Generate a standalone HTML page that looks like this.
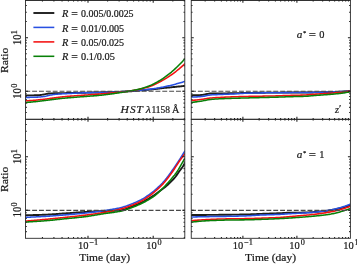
<!DOCTYPE html>
<html><head><meta charset="utf-8"><title>chart</title>
<style>html,body{margin:0;padding:0;background:#fff;overflow:hidden}svg{display:block;filter:blur(0.3px)}</style></head>
<body>
<svg width="357" height="265" viewBox="0 0 357 265">
<rect width="357" height="265" fill="#fff"/>
<defs>
<clipPath id="cTL"><rect x="25.5" y="0.3" width="159.3" height="119"/></clipPath>
<clipPath id="cTR"><rect x="191.25" y="0.3" width="159.15" height="119"/></clipPath>
<clipPath id="cBL"><rect x="25.5" y="119.3" width="159.3" height="119"/></clipPath>
<clipPath id="cBR"><rect x="191.25" y="119.3" width="159.15" height="119"/></clipPath>
</defs>
<g clip-path="url(#cTL)" fill="none" stroke-width="2.0" stroke-linejoin="round">
<path d="M25.5 95.4 L26.5 95.4 L27.5 95.4 L28.5 95.39 L29.5 95.38 L30.5 95.38 L31.5 95.37 L32.5 95.36 L33.5 95.34 L34.5 95.32 L35.5 95.3 L36.5 95.26 L37.5 95.22 L38.5 95.17 L39.5 95.08 L40.5 94.96 L41.5 94.83 L42.5 94.68 L43.5 94.52 L44.5 94.31 L45.5 94.09 L46.5 93.89 L47.5 93.72 L48.5 93.55 L49.5 93.43 L50.5 93.38 L51.5 93.36 L52.5 93.34 L53.5 93.32 L54.5 93.31 L55.5 93.29 L56.5 93.27 L57.5 93.25 L58.5 93.23 L59.5 93.21 L60.5 93.19 L61.5 93.17 L62.5 93.15 L63.5 93.13 L64.5 93.11 L65.5 93.09 L66.5 93.07 L67.5 93.05 L68.5 93.03 L69.5 93.01 L70.5 92.99 L71.5 92.97 L72.5 92.95 L73.5 92.93 L74.5 92.91 L75.5 92.89 L76.5 92.87 L77.5 92.85 L78.5 92.83 L79.5 92.81 L80.5 92.79 L81.5 92.77 L82.5 92.75 L83.5 92.73 L84.5 92.71 L85.5 92.69 L86.5 92.67 L87.5 92.65 L88.5 92.63 L89.5 92.61 L90.5 92.59 L91.5 92.57 L92.5 92.56 L93.5 92.54 L94.5 92.52 L95.5 92.5 L96.5 92.48 L97.5 92.45 L98.5 92.43 L99.5 92.41 L100.5 92.39 L101.5 92.37 L102.5 92.34 L103.5 92.32 L104.5 92.29 L105.5 92.27 L106.5 92.25 L107.5 92.22 L108.5 92.19 L109.5 92.17 L110.5 92.14 L111.5 92.11 L112.5 92.08 L113.5 92.05 L114.5 92.02 L115.5 91.98 L116.5 91.95 L117.5 91.91 L118.5 91.88 L119.5 91.84 L120.5 91.8 L121.5 91.75 L122.5 91.71 L123.5 91.66 L124.5 91.62 L125.5 91.57 L126.5 91.51 L127.5 91.46 L128.5 91.4 L129.5 91.34 L130.5 91.26 L131.5 91.18 L132.5 91.1 L133.5 91 L134.5 90.91 L135.5 90.81 L136.5 90.72 L137.5 90.62 L138.5 90.53 L139.5 90.44 L140.5 90.36 L141.5 90.28 L142.5 90.2 L143.5 90.13 L144.5 90.05 L145.5 89.98 L146.5 89.9 L147.5 89.82 L148.5 89.73 L149.5 89.65 L150.5 89.55 L151.5 89.45 L152.5 89.34 L153.5 89.22 L154.5 89.1 L155.5 88.98 L156.5 88.86 L157.5 88.73 L158.5 88.6 L159.5 88.48 L160.5 88.36 L161.5 88.24 L162.5 88.13 L163.5 88.03 L164.5 87.92 L165.5 87.82 L166.5 87.73 L167.5 87.63 L168.5 87.54 L169.5 87.44 L170.5 87.35 L171.5 87.25 L172.5 87.16 L173.5 87.06 L174.5 86.96 L175.5 86.86 L176.5 86.76 L177.5 86.66 L178.5 86.56 L179.5 86.46 L180.5 86.36 L181.5 86.26 L182.5 86.16 L183.5 86.05 L184.5 85.95 L185 85.9" stroke="#1c1c1c" stroke-width="1.9"/>
<path d="M25.5 97.4 L26.5 97.4 L27.5 97.39 L28.5 97.38 L29.5 97.37 L30.5 97.35 L31.5 97.33 L32.5 97.31 L33.5 97.29 L34.5 97.26 L35.5 97.22 L36.5 97.18 L37.5 97.13 L38.5 97.07 L39.5 97 L40.5 96.91 L41.5 96.81 L42.5 96.69 L43.5 96.57 L44.5 96.42 L45.5 96.23 L46.5 96.01 L47.5 95.76 L48.5 95.52 L49.5 95.3 L50.5 95.11 L51.5 94.92 L52.5 94.75 L53.5 94.59 L54.5 94.46 L55.5 94.35 L56.5 94.26 L57.5 94.17 L58.5 94.1 L59.5 94.03 L60.5 93.96 L61.5 93.9 L62.5 93.84 L63.5 93.78 L64.5 93.73 L65.5 93.67 L66.5 93.62 L67.5 93.56 L68.5 93.51 L69.5 93.46 L70.5 93.41 L71.5 93.36 L72.5 93.31 L73.5 93.26 L74.5 93.22 L75.5 93.17 L76.5 93.13 L77.5 93.08 L78.5 93.04 L79.5 93 L80.5 92.96 L81.5 92.92 L82.5 92.89 L83.5 92.85 L84.5 92.82 L85.5 92.78 L86.5 92.75 L87.5 92.72 L88.5 92.69 L89.5 92.67 L90.5 92.64 L91.5 92.61 L92.5 92.59 L93.5 92.56 L94.5 92.54 L95.5 92.51 L96.5 92.49 L97.5 92.46 L98.5 92.44 L99.5 92.41 L100.5 92.39 L101.5 92.36 L102.5 92.34 L103.5 92.31 L104.5 92.29 L105.5 92.27 L106.5 92.24 L107.5 92.22 L108.5 92.19 L109.5 92.17 L110.5 92.14 L111.5 92.11 L112.5 92.08 L113.5 92.05 L114.5 92.02 L115.5 91.98 L116.5 91.94 L117.5 91.89 L118.5 91.84 L119.5 91.79 L120.5 91.73 L121.5 91.67 L122.5 91.6 L123.5 91.54 L124.5 91.47 L125.5 91.4 L126.5 91.34 L127.5 91.27 L128.5 91.2 L129.5 91.13 L130.5 91.06 L131.5 90.99 L132.5 90.92 L133.5 90.84 L134.5 90.77 L135.5 90.69 L136.5 90.6 L137.5 90.52 L138.5 90.43 L139.5 90.35 L140.5 90.25 L141.5 90.16 L142.5 90.06 L143.5 89.96 L144.5 89.85 L145.5 89.74 L146.5 89.63 L147.5 89.51 L148.5 89.39 L149.5 89.26 L150.5 89.13 L151.5 89 L152.5 88.86 L153.5 88.71 L154.5 88.55 L155.5 88.4 L156.5 88.23 L157.5 88.06 L158.5 87.89 L159.5 87.71 L160.5 87.53 L161.5 87.35 L162.5 87.16 L163.5 86.96 L164.5 86.76 L165.5 86.55 L166.5 86.33 L167.5 86.11 L168.5 85.88 L169.5 85.64 L170.5 85.4 L171.5 85.15 L172.5 84.9 L173.5 84.65 L174.5 84.4 L175.5 84.14 L176.5 83.87 L177.5 83.6 L178.5 83.32 L179.5 83.04 L180.5 82.75 L181.5 82.46 L182.5 82.16 L183.5 81.86 L184.5 81.55 L185 81.4" stroke="#2850e2" stroke-width="1.55"/>
<path d="M25.5 100.9 L26.5 100.84 L27.5 100.78 L28.5 100.71 L29.5 100.64 L30.5 100.57 L31.5 100.49 L32.5 100.41 L33.5 100.33 L34.5 100.24 L35.5 100.16 L36.5 100.06 L37.5 99.96 L38.5 99.85 L39.5 99.75 L40.5 99.63 L41.5 99.52 L42.5 99.4 L43.5 99.28 L44.5 99.16 L45.5 99.04 L46.5 98.92 L47.5 98.79 L48.5 98.66 L49.5 98.52 L50.5 98.39 L51.5 98.26 L52.5 98.12 L53.5 97.99 L54.5 97.86 L55.5 97.74 L56.5 97.61 L57.5 97.48 L58.5 97.35 L59.5 97.23 L60.5 97.1 L61.5 96.98 L62.5 96.86 L63.5 96.75 L64.5 96.65 L65.5 96.55 L66.5 96.46 L67.5 96.37 L68.5 96.29 L69.5 96.21 L70.5 96.13 L71.5 96.05 L72.5 95.98 L73.5 95.91 L74.5 95.83 L75.5 95.76 L76.5 95.69 L77.5 95.63 L78.5 95.56 L79.5 95.49 L80.5 95.42 L81.5 95.35 L82.5 95.28 L83.5 95.21 L84.5 95.14 L85.5 95.06 L86.5 94.99 L87.5 94.92 L88.5 94.85 L89.5 94.78 L90.5 94.71 L91.5 94.64 L92.5 94.57 L93.5 94.49 L94.5 94.42 L95.5 94.35 L96.5 94.27 L97.5 94.2 L98.5 94.12 L99.5 94.04 L100.5 93.96 L101.5 93.87 L102.5 93.79 L103.5 93.7 L104.5 93.61 L105.5 93.52 L106.5 93.42 L107.5 93.33 L108.5 93.23 L109.5 93.14 L110.5 93.04 L111.5 92.94 L112.5 92.85 L113.5 92.75 L114.5 92.65 L115.5 92.55 L116.5 92.45 L117.5 92.36 L118.5 92.27 L119.5 92.17 L120.5 92.08 L121.5 91.98 L122.5 91.88 L123.5 91.78 L124.5 91.67 L125.5 91.56 L126.5 91.45 L127.5 91.33 L128.5 91.2 L129.5 91.07 L130.5 90.92 L131.5 90.77 L132.5 90.62 L133.5 90.45 L134.5 90.28 L135.5 90.1 L136.5 89.91 L137.5 89.72 L138.5 89.52 L139.5 89.31 L140.5 89.09 L141.5 88.86 L142.5 88.62 L143.5 88.37 L144.5 88.1 L145.5 87.82 L146.5 87.53 L147.5 87.23 L148.5 86.91 L149.5 86.57 L150.5 86.22 L151.5 85.84 L152.5 85.44 L153.5 85.01 L154.5 84.55 L155.5 84.08 L156.5 83.59 L157.5 83.09 L158.5 82.58 L159.5 82.06 L160.5 81.54 L161.5 81 L162.5 80.44 L163.5 79.86 L164.5 79.27 L165.5 78.66 L166.5 78.04 L167.5 77.41 L168.5 76.76 L169.5 76.11 L170.5 75.44 L171.5 74.75 L172.5 74.04 L173.5 73.31 L174.5 72.56 L175.5 71.79 L176.5 71.01 L177.5 70.21 L178.5 69.39 L179.5 68.55 L180.5 67.7 L181.5 66.82 L182.5 65.92 L183.5 65.01 L184.5 64.07 L185 63.6" stroke="#f41010" stroke-width="1.55"/>
<path d="M25.5 102.5 L26.5 102.43 L27.5 102.36 L28.5 102.28 L29.5 102.2 L30.5 102.12 L31.5 102.03 L32.5 101.94 L33.5 101.85 L34.5 101.75 L35.5 101.65 L36.5 101.54 L37.5 101.43 L38.5 101.32 L39.5 101.19 L40.5 101.07 L41.5 100.94 L42.5 100.82 L43.5 100.69 L44.5 100.56 L45.5 100.44 L46.5 100.31 L47.5 100.18 L48.5 100.04 L49.5 99.91 L50.5 99.78 L51.5 99.64 L52.5 99.51 L53.5 99.38 L54.5 99.26 L55.5 99.14 L56.5 99.02 L57.5 98.9 L58.5 98.79 L59.5 98.68 L60.5 98.56 L61.5 98.45 L62.5 98.35 L63.5 98.25 L64.5 98.15 L65.5 98.05 L66.5 97.96 L67.5 97.87 L68.5 97.79 L69.5 97.7 L70.5 97.62 L71.5 97.54 L72.5 97.46 L73.5 97.38 L74.5 97.3 L75.5 97.23 L76.5 97.15 L77.5 97.07 L78.5 97 L79.5 96.92 L80.5 96.85 L81.5 96.77 L82.5 96.7 L83.5 96.62 L84.5 96.54 L85.5 96.46 L86.5 96.38 L87.5 96.31 L88.5 96.23 L89.5 96.16 L90.5 96.08 L91.5 96.01 L92.5 95.93 L93.5 95.86 L94.5 95.78 L95.5 95.7 L96.5 95.62 L97.5 95.53 L98.5 95.44 L99.5 95.35 L100.5 95.25 L101.5 95.15 L102.5 95.04 L103.5 94.93 L104.5 94.81 L105.5 94.69 L106.5 94.56 L107.5 94.43 L108.5 94.3 L109.5 94.17 L110.5 94.03 L111.5 93.89 L112.5 93.75 L113.5 93.61 L114.5 93.47 L115.5 93.33 L116.5 93.18 L117.5 93.03 L118.5 92.88 L119.5 92.72 L120.5 92.57 L121.5 92.4 L122.5 92.24 L123.5 92.07 L124.5 91.9 L125.5 91.73 L126.5 91.56 L127.5 91.38 L128.5 91.2 L129.5 91.02 L130.5 90.84 L131.5 90.66 L132.5 90.48 L133.5 90.29 L134.5 90.1 L135.5 89.91 L136.5 89.7 L137.5 89.49 L138.5 89.26 L139.5 89.02 L140.5 88.77 L141.5 88.51 L142.5 88.22 L143.5 87.92 L144.5 87.61 L145.5 87.27 L146.5 86.93 L147.5 86.57 L148.5 86.19 L149.5 85.8 L150.5 85.39 L151.5 84.96 L152.5 84.5 L153.5 84.02 L154.5 83.51 L155.5 82.98 L156.5 82.43 L157.5 81.87 L158.5 81.29 L159.5 80.7 L160.5 80.1 L161.5 79.47 L162.5 78.81 L163.5 78.14 L164.5 77.44 L165.5 76.72 L166.5 75.98 L167.5 75.23 L168.5 74.45 L169.5 73.67 L170.5 72.86 L171.5 72.04 L172.5 71.17 L173.5 70.28 L174.5 69.36 L175.5 68.42 L176.5 67.46 L177.5 66.49 L178.5 65.51 L179.5 64.51 L180.5 63.5 L181.5 62.46 L182.5 61.41 L183.5 60.34 L184.5 59.25 L185 58.7" stroke="#088008" stroke-width="1.55"/>
<path d="M25.5 91.25 H184.8" stroke="#484848" stroke-width="1.2" stroke-dasharray="4.9 1.95" stroke-dashoffset="0.2"/>
</g>
<g clip-path="url(#cTR)" fill="none" stroke-width="2.0" stroke-linejoin="round">
<path d="M191 95.3 L192 95.3 L193 95.29 L194 95.28 L195 95.26 L196 95.25 L197 95.22 L198 95.2 L199 95.16 L200 95.1 L201 95.01 L202 94.91 L203 94.8 L204 94.64 L205 94.42 L206 94.19 L207 94 L208 93.84 L209 93.68 L210 93.56 L211 93.5 L212 93.48 L213 93.46 L214 93.45 L215 93.44 L216 93.43 L217 93.42 L218 93.42 L219 93.41 L220 93.4 L221 93.39 L222 93.38 L223 93.37 L224 93.36 L225 93.35 L226 93.34 L227 93.33 L228 93.32 L229 93.31 L230 93.3 L231 93.29 L232 93.27 L233 93.25 L234 93.23 L235 93.21 L236 93.18 L237 93.16 L238 93.13 L239 93.1 L240 93.08 L241 93.05 L242 93.03 L243 93 L244 92.98 L245 92.96 L246 92.94 L247 92.92 L248 92.9 L249 92.88 L250 92.87 L251 92.86 L252 92.84 L253 92.83 L254 92.81 L255 92.8 L256 92.79 L257 92.77 L258 92.76 L259 92.75 L260 92.73 L261 92.72 L262 92.71 L263 92.7 L264 92.69 L265 92.68 L266 92.67 L267 92.66 L268 92.65 L269 92.64 L270 92.63 L271 92.63 L272 92.62 L273 92.61 L274 92.61 L275 92.6 L276 92.6 L277 92.59 L278 92.59 L279 92.58 L280 92.58 L281 92.58 L282 92.57 L283 92.57 L284 92.57 L285 92.56 L286 92.56 L287 92.56 L288 92.56 L289 92.55 L290 92.55 L291 92.55 L292 92.55 L293 92.54 L294 92.54 L295 92.54 L296 92.54 L297 92.53 L298 92.53 L299 92.53 L300 92.52 L301 92.52 L302 92.51 L303 92.51 L304 92.51 L305 92.5 L306 92.49 L307 92.49 L308 92.48 L309 92.47 L310 92.46 L311 92.45 L312 92.44 L313 92.43 L314 92.41 L315 92.4 L316 92.39 L317 92.37 L318 92.35 L319 92.34 L320 92.32 L321 92.3 L322 92.28 L323 92.27 L324 92.25 L325 92.22 L326 92.2 L327 92.18 L328 92.16 L329 92.14 L330 92.11 L331 92.09 L332 92.06 L333 92.03 L334 92 L335 91.97 L336 91.93 L337 91.89 L338 91.85 L339 91.8 L340 91.76 L341 91.71 L342 91.65 L343 91.6 L344 91.54 L345 91.47 L346 91.39 L347 91.31 L348 91.22 L349 91.13 L350 91.04 L350.4 91" stroke="#1c1c1c" stroke-width="1.9"/>
<path d="M191 97.1 L192 97.08 L193 97.06 L194 97.02 L195 96.97 L196 96.92 L197 96.86 L198 96.8 L199 96.73 L200 96.64 L201 96.54 L202 96.43 L203 96.3 L204 96.13 L205 95.92 L206 95.7 L207 95.5 L208 95.32 L209 95.15 L210 95 L211 94.9 L212 94.83 L213 94.77 L214 94.73 L215 94.68 L216 94.65 L217 94.61 L218 94.58 L219 94.54 L220 94.5 L221 94.46 L222 94.42 L223 94.38 L224 94.34 L225 94.3 L226 94.26 L227 94.22 L228 94.18 L229 94.14 L230 94.1 L231 94.05 L232 94.01 L233 93.95 L234 93.9 L235 93.84 L236 93.79 L237 93.73 L238 93.67 L239 93.61 L240 93.56 L241 93.5 L242 93.45 L243 93.4 L244 93.35 L245 93.31 L246 93.27 L247 93.23 L248 93.2 L249 93.17 L250 93.15 L251 93.12 L252 93.09 L253 93.07 L254 93.05 L255 93.02 L256 93 L257 92.98 L258 92.96 L259 92.94 L260 92.92 L261 92.9 L262 92.88 L263 92.86 L264 92.85 L265 92.83 L266 92.81 L267 92.8 L268 92.78 L269 92.77 L270 92.76 L271 92.74 L272 92.73 L273 92.72 L274 92.71 L275 92.7 L276 92.69 L277 92.68 L278 92.67 L279 92.67 L280 92.66 L281 92.65 L282 92.65 L283 92.64 L284 92.63 L285 92.63 L286 92.62 L287 92.62 L288 92.61 L289 92.61 L290 92.6 L291 92.6 L292 92.59 L293 92.59 L294 92.58 L295 92.58 L296 92.57 L297 92.57 L298 92.56 L299 92.55 L300 92.55 L301 92.54 L302 92.53 L303 92.52 L304 92.51 L305 92.5 L306 92.49 L307 92.47 L308 92.45 L309 92.43 L310 92.41 L311 92.39 L312 92.37 L313 92.34 L314 92.32 L315 92.3 L316 92.28 L317 92.26 L318 92.24 L319 92.21 L320 92.19 L321 92.17 L322 92.15 L323 92.13 L324 92.1 L325 92.08 L326 92.06 L327 92.03 L328 92.01 L329 91.98 L330 91.96 L331 91.93 L332 91.9 L333 91.87 L334 91.84 L335 91.81 L336 91.78 L337 91.75 L338 91.71 L339 91.68 L340 91.64 L341 91.6 L342 91.55 L343 91.5 L344 91.44 L345 91.38 L346 91.3 L347 91.22 L348 91.13 L349 91.04 L350 90.94 L350.4 90.9" stroke="#2850e2" stroke-width="1.55"/>
<path d="M191 100.5 L192 100.41 L193 100.32 L194 100.23 L195 100.12 L196 100.02 L197 99.91 L198 99.8 L199 99.68 L200 99.56 L201 99.44 L202 99.31 L203 99.16 L204 99 L205 98.83 L206 98.66 L207 98.5 L208 98.34 L209 98.21 L210 98.1 L211 98.01 L212 97.92 L213 97.84 L214 97.77 L215 97.7 L216 97.64 L217 97.58 L218 97.52 L219 97.46 L220 97.4 L221 97.34 L222 97.29 L223 97.23 L224 97.18 L225 97.12 L226 97.07 L227 97.03 L228 96.98 L229 96.94 L230 96.9 L231 96.86 L232 96.83 L233 96.8 L234 96.76 L235 96.73 L236 96.7 L237 96.67 L238 96.65 L239 96.62 L240 96.59 L241 96.57 L242 96.54 L243 96.52 L244 96.49 L245 96.47 L246 96.45 L247 96.42 L248 96.4 L249 96.38 L250 96.36 L251 96.34 L252 96.32 L253 96.3 L254 96.28 L255 96.26 L256 96.25 L257 96.23 L258 96.21 L259 96.2 L260 96.18 L261 96.16 L262 96.15 L263 96.13 L264 96.12 L265 96.1 L266 96.08 L267 96.07 L268 96.05 L269 96.03 L270 96.01 L271 95.99 L272 95.97 L273 95.95 L274 95.92 L275 95.9 L276 95.87 L277 95.85 L278 95.82 L279 95.78 L280 95.75 L281 95.71 L282 95.68 L283 95.64 L284 95.6 L285 95.57 L286 95.53 L287 95.5 L288 95.46 L289 95.43 L290 95.4 L291 95.37 L292 95.35 L293 95.32 L294 95.3 L295 95.28 L296 95.25 L297 95.23 L298 95.21 L299 95.19 L300 95.16 L301 95.14 L302 95.11 L303 95.07 L304 95.04 L305 95 L306 94.95 L307 94.89 L308 94.81 L309 94.73 L310 94.64 L311 94.55 L312 94.45 L313 94.36 L314 94.28 L315 94.2 L316 94.13 L317 94.06 L318 94 L319 93.93 L320 93.87 L321 93.81 L322 93.75 L323 93.69 L324 93.63 L325 93.57 L326 93.51 L327 93.45 L328 93.39 L329 93.32 L330 93.25 L331 93.18 L332 93.1 L333 93.02 L334 92.94 L335 92.85 L336 92.76 L337 92.67 L338 92.58 L339 92.48 L340 92.37 L341 92.27 L342 92.15 L343 92.04 L344 91.91 L345 91.78 L346 91.63 L347 91.48 L348 91.31 L349 91.14 L350 90.97 L350.4 90.9" stroke="#f41010" stroke-width="1.55"/>
<path d="M191 102.5 L192 102.39 L193 102.27 L194 102.14 L195 102.02 L196 101.88 L197 101.74 L198 101.6 L199 101.45 L200 101.3 L201 101.15 L202 100.98 L203 100.8 L204 100.59 L205 100.38 L206 100.17 L207 99.97 L208 99.78 L209 99.62 L210 99.5 L211 99.4 L212 99.31 L213 99.23 L214 99.15 L215 99.09 L216 99.02 L217 98.96 L218 98.91 L219 98.85 L220 98.8 L221 98.75 L222 98.7 L223 98.66 L224 98.62 L225 98.58 L226 98.54 L227 98.5 L228 98.47 L229 98.43 L230 98.4 L231 98.37 L232 98.34 L233 98.3 L234 98.27 L235 98.25 L236 98.22 L237 98.19 L238 98.16 L239 98.14 L240 98.11 L241 98.08 L242 98.06 L243 98.03 L244 98.01 L245 97.98 L246 97.95 L247 97.93 L248 97.9 L249 97.87 L250 97.85 L251 97.82 L252 97.8 L253 97.77 L254 97.74 L255 97.72 L256 97.69 L257 97.67 L258 97.65 L259 97.62 L260 97.6 L261 97.57 L262 97.55 L263 97.52 L264 97.5 L265 97.47 L266 97.45 L267 97.42 L268 97.39 L269 97.37 L270 97.34 L271 97.31 L272 97.29 L273 97.26 L274 97.23 L275 97.2 L276 97.17 L277 97.14 L278 97.11 L279 97.07 L280 97.04 L281 97 L282 96.97 L283 96.93 L284 96.9 L285 96.86 L286 96.83 L287 96.79 L288 96.76 L289 96.73 L290 96.7 L291 96.67 L292 96.65 L293 96.62 L294 96.6 L295 96.58 L296 96.55 L297 96.53 L298 96.51 L299 96.49 L300 96.46 L301 96.44 L302 96.41 L303 96.37 L304 96.34 L305 96.3 L306 96.25 L307 96.19 L308 96.12 L309 96.03 L310 95.95 L311 95.85 L312 95.76 L313 95.67 L314 95.58 L315 95.5 L316 95.42 L317 95.35 L318 95.27 L319 95.2 L320 95.13 L321 95.05 L322 94.98 L323 94.91 L324 94.84 L325 94.76 L326 94.69 L327 94.61 L328 94.54 L329 94.46 L330 94.37 L331 94.29 L332 94.2 L333 94.11 L334 94.02 L335 93.93 L336 93.83 L337 93.74 L338 93.64 L339 93.53 L340 93.42 L341 93.3 L342 93.18 L343 93.04 L344 92.9 L345 92.73 L346 92.55 L347 92.35 L348 92.14 L349 91.92 L350 91.69 L350.4 91.6" stroke="#088008" stroke-width="1.55"/>
<path d="M191.25 91.25 H350.4" stroke="#484848" stroke-width="1.2" stroke-dasharray="4.9 1.95" stroke-dashoffset="0.2"/>
</g>
<g clip-path="url(#cBL)" fill="none" stroke-width="2.0" stroke-linejoin="round">
<path d="M25.5 215.2 L26.5 215.19 L27.5 215.18 L28.5 215.17 L29.5 215.15 L30.5 215.14 L31.5 215.12 L32.5 215.09 L33.5 215.07 L34.5 215.04 L35.5 215.02 L36.5 214.99 L37.5 214.96 L38.5 214.93 L39.5 214.89 L40.5 214.86 L41.5 214.83 L42.5 214.79 L43.5 214.75 L44.5 214.72 L45.5 214.68 L46.5 214.64 L47.5 214.59 L48.5 214.54 L49.5 214.49 L50.5 214.43 L51.5 214.36 L52.5 214.3 L53.5 214.23 L54.5 214.16 L55.5 214.09 L56.5 214.02 L57.5 213.94 L58.5 213.87 L59.5 213.8 L60.5 213.72 L61.5 213.65 L62.5 213.57 L63.5 213.5 L64.5 213.43 L65.5 213.37 L66.5 213.3 L67.5 213.23 L68.5 213.16 L69.5 213.08 L70.5 213.01 L71.5 212.94 L72.5 212.86 L73.5 212.79 L74.5 212.71 L75.5 212.64 L76.5 212.57 L77.5 212.5 L78.5 212.42 L79.5 212.35 L80.5 212.29 L81.5 212.22 L82.5 212.15 L83.5 212.09 L84.5 212.03 L85.5 211.97 L86.5 211.91 L87.5 211.86 L88.5 211.8 L89.5 211.75 L90.5 211.69 L91.5 211.64 L92.5 211.59 L93.5 211.54 L94.5 211.49 L95.5 211.44 L96.5 211.39 L97.5 211.34 L98.5 211.3 L99.5 211.25 L100.5 211.2 L101.5 211.16 L102.5 211.11 L103.5 211.07 L104.5 211.02 L105.5 210.98 L106.5 210.94 L107.5 210.9 L108.5 210.87 L109.5 210.84 L110.5 210.81 L111.5 210.79 L112.5 210.76 L113.5 210.72 L114.5 210.69 L115.5 210.65 L116.5 210.61 L117.5 210.56 L118.5 210.5 L119.5 210.44 L120.5 210.35 L121.5 210.21 L122.5 210 L123.5 209.73 L124.5 209.42 L125.5 209.07 L126.5 208.69 L127.5 208.3 L128.5 207.89 L129.5 207.49 L130.5 207.1 L131.5 206.73 L132.5 206.35 L133.5 205.97 L134.5 205.57 L135.5 205.17 L136.5 204.75 L137.5 204.32 L138.5 203.88 L139.5 203.43 L140.5 202.96 L141.5 202.49 L142.5 202 L143.5 201.5 L144.5 200.98 L145.5 200.45 L146.5 199.9 L147.5 199.33 L148.5 198.75 L149.5 198.16 L150.5 197.55 L151.5 196.92 L152.5 196.28 L153.5 195.63 L154.5 194.96 L155.5 194.24 L156.5 193.49 L157.5 192.72 L158.5 191.94 L159.5 191.17 L160.5 190.44 L161.5 189.73 L162.5 189.02 L163.5 188.29 L164.5 187.5 L165.5 186.67 L166.5 185.82 L167.5 184.93 L168.5 184.01 L169.5 183.08 L170.5 182.12 L171.5 181.15 L172.5 180.16 L173.5 179.11 L174.5 177.99 L175.5 176.77 L176.5 175.37 L177.5 173.89 L178.5 172.42 L179.5 171.06 L180.5 169.75 L181.5 168.43 L182.5 167 L183.5 165.41 L184.5 163.7 L185 162.8" stroke="#1c1c1c" stroke-width="1.9"/>
<path d="M25.5 217.3 L26.5 217.27 L27.5 217.23 L28.5 217.2 L29.5 217.16 L30.5 217.12 L31.5 217.08 L32.5 217.04 L33.5 216.99 L34.5 216.95 L35.5 216.9 L36.5 216.85 L37.5 216.8 L38.5 216.75 L39.5 216.7 L40.5 216.65 L41.5 216.59 L42.5 216.54 L43.5 216.48 L44.5 216.43 L45.5 216.37 L46.5 216.31 L47.5 216.25 L48.5 216.18 L49.5 216.12 L50.5 216.05 L51.5 215.98 L52.5 215.9 L53.5 215.83 L54.5 215.75 L55.5 215.67 L56.5 215.59 L57.5 215.51 L58.5 215.43 L59.5 215.35 L60.5 215.27 L61.5 215.19 L62.5 215.11 L63.5 215.02 L64.5 214.94 L65.5 214.86 L66.5 214.78 L67.5 214.7 L68.5 214.61 L69.5 214.53 L70.5 214.45 L71.5 214.36 L72.5 214.28 L73.5 214.19 L74.5 214.11 L75.5 214.02 L76.5 213.93 L77.5 213.84 L78.5 213.75 L79.5 213.65 L80.5 213.56 L81.5 213.46 L82.5 213.36 L83.5 213.26 L84.5 213.15 L85.5 213.05 L86.5 212.94 L87.5 212.83 L88.5 212.71 L89.5 212.6 L90.5 212.48 L91.5 212.36 L92.5 212.23 L93.5 212.11 L94.5 211.98 L95.5 211.85 L96.5 211.72 L97.5 211.58 L98.5 211.44 L99.5 211.3 L100.5 211.16 L101.5 211.02 L102.5 210.87 L103.5 210.73 L104.5 210.58 L105.5 210.42 L106.5 210.27 L107.5 210.12 L108.5 209.96 L109.5 209.8 L110.5 209.64 L111.5 209.48 L112.5 209.31 L113.5 209.13 L114.5 208.95 L115.5 208.76 L116.5 208.56 L117.5 208.36 L118.5 208.14 L119.5 207.92 L120.5 207.68 L121.5 207.42 L122.5 207.14 L123.5 206.85 L124.5 206.53 L125.5 206.21 L126.5 205.86 L127.5 205.51 L128.5 205.15 L129.5 204.78 L130.5 204.4 L131.5 204.02 L132.5 203.64 L133.5 203.24 L134.5 202.83 L135.5 202.41 L136.5 201.97 L137.5 201.52 L138.5 201.05 L139.5 200.57 L140.5 200.07 L141.5 199.55 L142.5 199.01 L143.5 198.43 L144.5 197.79 L145.5 197.12 L146.5 196.42 L147.5 195.72 L148.5 195.03 L149.5 194.32 L150.5 193.6 L151.5 192.86 L152.5 192.1 L153.5 191.31 L154.5 190.48 L155.5 189.63 L156.5 188.76 L157.5 187.86 L158.5 186.93 L159.5 185.98 L160.5 185 L161.5 183.98 L162.5 182.94 L163.5 181.85 L164.5 180.73 L165.5 179.53 L166.5 178.27 L167.5 176.95 L168.5 175.6 L169.5 174.22 L170.5 172.83 L171.5 171.45 L172.5 170.05 L173.5 168.63 L174.5 167.19 L175.5 165.73 L176.5 164.25 L177.5 162.75 L178.5 161.23 L179.5 159.69 L180.5 158.12 L181.5 156.52 L182.5 154.88 L183.5 153.23 L184.5 151.55 L185 150.7" stroke="#2850e2" stroke-width="1.55"/>
<path d="M25.5 221.1 L26.5 221.02 L27.5 220.94 L28.5 220.85 L29.5 220.77 L30.5 220.69 L31.5 220.6 L32.5 220.52 L33.5 220.43 L34.5 220.35 L35.5 220.26 L36.5 220.17 L37.5 220.08 L38.5 219.99 L39.5 219.9 L40.5 219.81 L41.5 219.72 L42.5 219.63 L43.5 219.54 L44.5 219.45 L45.5 219.35 L46.5 219.26 L47.5 219.16 L48.5 219.07 L49.5 218.97 L50.5 218.88 L51.5 218.78 L52.5 218.68 L53.5 218.58 L54.5 218.48 L55.5 218.38 L56.5 218.28 L57.5 218.18 L58.5 218.07 L59.5 217.97 L60.5 217.87 L61.5 217.76 L62.5 217.66 L63.5 217.56 L64.5 217.45 L65.5 217.35 L66.5 217.24 L67.5 217.14 L68.5 217.04 L69.5 216.93 L70.5 216.83 L71.5 216.72 L72.5 216.62 L73.5 216.51 L74.5 216.4 L75.5 216.3 L76.5 216.19 L77.5 216.08 L78.5 215.97 L79.5 215.85 L80.5 215.74 L81.5 215.62 L82.5 215.51 L83.5 215.38 L84.5 215.26 L85.5 215.14 L86.5 215.01 L87.5 214.88 L88.5 214.75 L89.5 214.62 L90.5 214.49 L91.5 214.35 L92.5 214.22 L93.5 214.08 L94.5 213.94 L95.5 213.79 L96.5 213.65 L97.5 213.5 L98.5 213.35 L99.5 213.2 L100.5 213.04 L101.5 212.88 L102.5 212.72 L103.5 212.55 L104.5 212.39 L105.5 212.21 L106.5 212.04 L107.5 211.86 L108.5 211.68 L109.5 211.49 L110.5 211.3 L111.5 211.11 L112.5 210.91 L113.5 210.7 L114.5 210.49 L115.5 210.27 L116.5 210.05 L117.5 209.81 L118.5 209.57 L119.5 209.33 L120.5 209.07 L121.5 208.8 L122.5 208.51 L123.5 208.21 L124.5 207.9 L125.5 207.58 L126.5 207.24 L127.5 206.89 L128.5 206.54 L129.5 206.17 L130.5 205.8 L131.5 205.42 L132.5 205.04 L133.5 204.64 L134.5 204.22 L135.5 203.8 L136.5 203.36 L137.5 202.91 L138.5 202.44 L139.5 201.96 L140.5 201.46 L141.5 200.95 L142.5 200.41 L143.5 199.84 L144.5 199.23 L145.5 198.59 L146.5 197.91 L147.5 197.21 L148.5 196.5 L149.5 195.78 L150.5 195.05 L151.5 194.3 L152.5 193.52 L153.5 192.72 L154.5 191.88 L155.5 191.02 L156.5 190.15 L157.5 189.26 L158.5 188.34 L159.5 187.41 L160.5 186.44 L161.5 185.44 L162.5 184.41 L163.5 183.35 L164.5 182.24 L165.5 181.07 L166.5 179.84 L167.5 178.56 L168.5 177.24 L169.5 175.89 L170.5 174.51 L171.5 173.12 L172.5 171.72 L173.5 170.26 L174.5 168.74 L175.5 167.19 L176.5 165.62 L177.5 164.05 L178.5 162.5 L179.5 161.01 L180.5 159.58 L181.5 158.19 L182.5 156.84 L183.5 155.52 L184.5 154.23 L185 153.6" stroke="#f41010" stroke-width="1.55"/>
<path d="M25.5 222 L26.5 221.96 L27.5 221.91 L28.5 221.86 L29.5 221.81 L30.5 221.76 L31.5 221.7 L32.5 221.65 L33.5 221.59 L34.5 221.53 L35.5 221.47 L36.5 221.4 L37.5 221.34 L38.5 221.27 L39.5 221.2 L40.5 221.13 L41.5 221.06 L42.5 220.99 L43.5 220.91 L44.5 220.84 L45.5 220.76 L46.5 220.68 L47.5 220.6 L48.5 220.51 L49.5 220.42 L50.5 220.32 L51.5 220.22 L52.5 220.12 L53.5 220.02 L54.5 219.92 L55.5 219.81 L56.5 219.71 L57.5 219.6 L58.5 219.49 L59.5 219.38 L60.5 219.28 L61.5 219.17 L62.5 219.06 L63.5 218.96 L64.5 218.85 L65.5 218.75 L66.5 218.65 L67.5 218.55 L68.5 218.45 L69.5 218.35 L70.5 218.25 L71.5 218.16 L72.5 218.06 L73.5 217.96 L74.5 217.86 L75.5 217.76 L76.5 217.66 L77.5 217.56 L78.5 217.45 L79.5 217.34 L80.5 217.23 L81.5 217.12 L82.5 217 L83.5 216.89 L84.5 216.76 L85.5 216.64 L86.5 216.5 L87.5 216.36 L88.5 216.22 L89.5 216.06 L90.5 215.91 L91.5 215.75 L92.5 215.58 L93.5 215.42 L94.5 215.25 L95.5 215.08 L96.5 214.91 L97.5 214.74 L98.5 214.57 L99.5 214.4 L100.5 214.23 L101.5 214.06 L102.5 213.9 L103.5 213.73 L104.5 213.58 L105.5 213.42 L106.5 213.28 L107.5 213.14 L108.5 213.01 L109.5 212.88 L110.5 212.75 L111.5 212.62 L112.5 212.49 L113.5 212.36 L114.5 212.22 L115.5 212.08 L116.5 211.92 L117.5 211.76 L118.5 211.59 L119.5 211.4 L120.5 211.2 L121.5 210.97 L122.5 210.71 L123.5 210.43 L124.5 210.14 L125.5 209.82 L126.5 209.49 L127.5 209.15 L128.5 208.8 L129.5 208.45 L130.5 208.09 L131.5 207.73 L132.5 207.36 L133.5 206.98 L134.5 206.58 L135.5 206.18 L136.5 205.76 L137.5 205.33 L138.5 204.89 L139.5 204.43 L140.5 203.97 L141.5 203.49 L142.5 203 L143.5 202.5 L144.5 201.98 L145.5 201.46 L146.5 200.92 L147.5 200.36 L148.5 199.78 L149.5 199.19 L150.5 198.57 L151.5 197.93 L152.5 197.27 L153.5 196.57 L154.5 195.85 L155.5 195.08 L156.5 194.25 L157.5 193.37 L158.5 192.45 L159.5 191.5 L160.5 190.52 L161.5 189.52 L162.5 188.51 L163.5 187.5 L164.5 186.49 L165.5 185.46 L166.5 184.4 L167.5 183.32 L168.5 182.21 L169.5 181.08 L170.5 179.92 L171.5 178.76 L172.5 177.57 L173.5 176.36 L174.5 175.11 L175.5 173.8 L176.5 172.43 L177.5 170.95 L178.5 169.34 L179.5 167.63 L180.5 165.87 L181.5 164.09 L182.5 162.34 L183.5 160.66 L184.5 159.08 L185 158.3" stroke="#088008" stroke-width="1.55"/>
<path d="M25.5 210.3 H184.8" stroke="#484848" stroke-width="1.2" stroke-dasharray="4.9 1.95" stroke-dashoffset="0.2"/>
</g>
<g clip-path="url(#cBR)" fill="none" stroke-width="2.0" stroke-linejoin="round">
<path d="M191 215 L192 215 L193 214.99 L194 214.99 L195 214.99 L196 214.98 L197 214.98 L198 214.97 L199 214.97 L200 214.96 L201 214.96 L202 214.95 L203 214.95 L204 214.94 L205 214.93 L206 214.93 L207 214.92 L208 214.91 L209 214.91 L210 214.9 L211 214.89 L212 214.89 L213 214.88 L214 214.87 L215 214.86 L216 214.85 L217 214.84 L218 214.83 L219 214.82 L220 214.81 L221 214.8 L222 214.79 L223 214.78 L224 214.77 L225 214.76 L226 214.75 L227 214.74 L228 214.72 L229 214.71 L230 214.7 L231 214.69 L232 214.67 L233 214.66 L234 214.65 L235 214.64 L236 214.62 L237 214.61 L238 214.59 L239 214.58 L240 214.56 L241 214.54 L242 214.53 L243 214.51 L244 214.49 L245 214.47 L246 214.45 L247 214.42 L248 214.4 L249 214.37 L250 214.34 L251 214.3 L252 214.26 L253 214.22 L254 214.17 L255 214.12 L256 214.08 L257 214.03 L258 213.98 L259 213.94 L260 213.9 L261 213.86 L262 213.83 L263 213.79 L264 213.76 L265 213.72 L266 213.69 L267 213.66 L268 213.62 L269 213.59 L270 213.56 L271 213.53 L272 213.49 L273 213.46 L274 213.43 L275 213.39 L276 213.36 L277 213.32 L278 213.28 L279 213.24 L280 213.2 L281 213.15 L282 213.1 L283 213.04 L284 212.98 L285 212.92 L286 212.86 L287 212.81 L288 212.76 L289 212.72 L290 212.7 L291 212.69 L292 212.67 L293 212.66 L294 212.66 L295 212.65 L296 212.64 L297 212.63 L298 212.62 L299 212.61 L300 212.6 L301 212.58 L302 212.56 L303 212.54 L304 212.51 L305 212.49 L306 212.45 L307 212.42 L308 212.38 L309 212.34 L310 212.3 L311 212.25 L312 212.19 L313 212.12 L314 212.05 L315 211.97 L316 211.88 L317 211.79 L318 211.69 L319 211.6 L320 211.5 L321 211.4 L322 211.3 L323 211.19 L324 211.08 L325 210.97 L326 210.85 L327 210.72 L328 210.59 L329 210.45 L330 210.3 L331 210.14 L332 209.97 L333 209.79 L334 209.59 L335 209.39 L336 209.18 L337 208.96 L338 208.73 L339 208.5 L340 208.26 L341 208.01 L342 207.76 L343 207.5 L344 207.22 L345 206.94 L346 206.66 L347 206.36 L348 206.06 L349 205.75 L350 205.43 L350.4 205.3" stroke="#1c1c1c" stroke-width="1.9"/>
<path d="M191 217 L192 216.98 L193 216.95 L194 216.93 L195 216.91 L196 216.88 L197 216.86 L198 216.84 L199 216.82 L200 216.8 L201 216.77 L202 216.75 L203 216.73 L204 216.71 L205 216.69 L206 216.67 L207 216.65 L208 216.64 L209 216.62 L210 216.6 L211 216.58 L212 216.57 L213 216.55 L214 216.54 L215 216.52 L216 216.51 L217 216.49 L218 216.48 L219 216.47 L220 216.46 L221 216.44 L222 216.43 L223 216.41 L224 216.4 L225 216.39 L226 216.37 L227 216.35 L228 216.34 L229 216.32 L230 216.3 L231 216.28 L232 216.26 L233 216.24 L234 216.22 L235 216.19 L236 216.17 L237 216.14 L238 216.12 L239 216.09 L240 216.06 L241 216.04 L242 216.01 L243 215.98 L244 215.94 L245 215.91 L246 215.87 L247 215.84 L248 215.8 L249 215.76 L250 215.71 L251 215.65 L252 215.59 L253 215.53 L254 215.46 L255 215.39 L256 215.33 L257 215.26 L258 215.2 L259 215.15 L260 215.1 L261 215.06 L262 215.02 L263 214.98 L264 214.94 L265 214.91 L266 214.88 L267 214.85 L268 214.82 L269 214.79 L270 214.76 L271 214.73 L272 214.7 L273 214.67 L274 214.64 L275 214.6 L276 214.57 L277 214.53 L278 214.49 L279 214.45 L280 214.4 L281 214.35 L282 214.28 L283 214.21 L284 214.14 L285 214.06 L286 213.98 L287 213.91 L288 213.83 L289 213.76 L290 213.7 L291 213.64 L292 213.59 L293 213.54 L294 213.49 L295 213.45 L296 213.4 L297 213.35 L298 213.3 L299 213.25 L300 213.2 L301 213.15 L302 213.09 L303 213.04 L304 212.98 L305 212.93 L306 212.87 L307 212.81 L308 212.74 L309 212.67 L310 212.6 L311 212.52 L312 212.44 L313 212.35 L314 212.26 L315 212.16 L316 212.05 L317 211.95 L318 211.83 L319 211.72 L320 211.6 L321 211.48 L322 211.35 L323 211.21 L324 211.07 L325 210.93 L326 210.77 L327 210.61 L328 210.45 L329 210.28 L330 210.1 L331 209.91 L332 209.72 L333 209.51 L334 209.3 L335 209.07 L336 208.83 L337 208.58 L338 208.32 L339 208.05 L340 207.76 L341 207.47 L342 207.16 L343 206.84 L344 206.5 L345 206.16 L346 205.8 L347 205.44 L348 205.06 L349 204.67 L350 204.26 L350.4 204.1" stroke="#2850e2" stroke-width="1.55"/>
<path d="M191 220.7 L192 220.61 L193 220.53 L194 220.44 L195 220.36 L196 220.28 L197 220.2 L198 220.13 L199 220.05 L200 219.98 L201 219.91 L202 219.84 L203 219.77 L204 219.71 L205 219.65 L206 219.59 L207 219.54 L208 219.49 L209 219.44 L210 219.4 L211 219.36 L212 219.32 L213 219.28 L214 219.24 L215 219.2 L216 219.17 L217 219.13 L218 219.1 L219 219.07 L220 219.04 L221 219.01 L222 218.98 L223 218.95 L224 218.92 L225 218.9 L226 218.88 L227 218.86 L228 218.84 L229 218.82 L230 218.8 L231 218.78 L232 218.77 L233 218.76 L234 218.75 L235 218.74 L236 218.73 L237 218.72 L238 218.71 L239 218.7 L240 218.69 L241 218.69 L242 218.68 L243 218.67 L244 218.66 L245 218.64 L246 218.63 L247 218.62 L248 218.6 L249 218.58 L250 218.56 L251 218.53 L252 218.5 L253 218.46 L254 218.43 L255 218.39 L256 218.35 L257 218.31 L258 218.27 L259 218.24 L260 218.2 L261 218.16 L262 218.13 L263 218.09 L264 218.06 L265 218.03 L266 217.99 L267 217.96 L268 217.92 L269 217.88 L270 217.85 L271 217.81 L272 217.77 L273 217.73 L274 217.69 L275 217.65 L276 217.6 L277 217.55 L278 217.51 L279 217.45 L280 217.4 L281 217.34 L282 217.27 L283 217.2 L284 217.12 L285 217.04 L286 216.95 L287 216.86 L288 216.77 L289 216.69 L290 216.6 L291 216.51 L292 216.43 L293 216.34 L294 216.25 L295 216.16 L296 216.07 L297 215.97 L298 215.88 L299 215.79 L300 215.7 L301 215.61 L302 215.52 L303 215.44 L304 215.35 L305 215.27 L306 215.18 L307 215.09 L308 215 L309 214.9 L310 214.8 L311 214.7 L312 214.59 L313 214.48 L314 214.36 L315 214.24 L316 214.12 L317 214 L318 213.87 L319 213.74 L320 213.6 L321 213.46 L322 213.32 L323 213.17 L324 213.02 L325 212.86 L326 212.7 L327 212.53 L328 212.36 L329 212.18 L330 212 L331 211.81 L332 211.61 L333 211.4 L334 211.18 L335 210.96 L336 210.72 L337 210.48 L338 210.22 L339 209.96 L340 209.69 L341 209.4 L342 209.11 L343 208.81 L344 208.5 L345 208.18 L346 207.85 L347 207.52 L348 207.17 L349 206.81 L350 206.45 L350.4 206.3" stroke="#f41010" stroke-width="1.55"/>
<path d="M191 222.1 L192 222 L193 221.9 L194 221.8 L195 221.7 L196 221.61 L197 221.51 L198 221.42 L199 221.34 L200 221.25 L201 221.17 L202 221.09 L203 221.02 L204 220.94 L205 220.88 L206 220.81 L207 220.75 L208 220.7 L209 220.65 L210 220.6 L211 220.56 L212 220.52 L213 220.48 L214 220.44 L215 220.4 L216 220.36 L217 220.33 L218 220.29 L219 220.26 L220 220.23 L221 220.2 L222 220.17 L223 220.15 L224 220.12 L225 220.1 L226 220.08 L227 220.05 L228 220.04 L229 220.02 L230 220 L231 219.98 L232 219.97 L233 219.96 L234 219.95 L235 219.94 L236 219.93 L237 219.92 L238 219.91 L239 219.9 L240 219.89 L241 219.89 L242 219.88 L243 219.87 L244 219.86 L245 219.84 L246 219.83 L247 219.82 L248 219.8 L249 219.78 L250 219.76 L251 219.73 L252 219.7 L253 219.66 L254 219.63 L255 219.59 L256 219.55 L257 219.51 L258 219.47 L259 219.44 L260 219.4 L261 219.36 L262 219.33 L263 219.29 L264 219.26 L265 219.22 L266 219.18 L267 219.15 L268 219.11 L269 219.07 L270 219.03 L271 218.99 L272 218.95 L273 218.91 L274 218.87 L275 218.83 L276 218.79 L277 218.74 L278 218.7 L279 218.65 L280 218.6 L281 218.55 L282 218.5 L283 218.44 L284 218.38 L285 218.32 L286 218.26 L287 218.19 L288 218.13 L289 218.06 L290 218 L291 217.93 L292 217.87 L293 217.8 L294 217.73 L295 217.66 L296 217.59 L297 217.52 L298 217.45 L299 217.37 L300 217.3 L301 217.23 L302 217.15 L303 217.07 L304 217 L305 216.92 L306 216.84 L307 216.76 L308 216.67 L309 216.59 L310 216.5 L311 216.41 L312 216.32 L313 216.22 L314 216.13 L315 216.03 L316 215.93 L317 215.83 L318 215.72 L319 215.61 L320 215.5 L321 215.39 L322 215.27 L323 215.16 L324 215.04 L325 214.92 L326 214.79 L327 214.65 L328 214.51 L329 214.36 L330 214.2 L331 214.03 L332 213.83 L333 213.62 L334 213.4 L335 213.17 L336 212.93 L337 212.68 L338 212.42 L339 212.16 L340 211.89 L341 211.6 L342 211.31 L343 211.01 L344 210.7 L345 210.38 L346 210.05 L347 209.72 L348 209.37 L349 209.01 L350 208.65 L350.4 208.5" stroke="#088008" stroke-width="1.55"/>
<path d="M191.25 210.3 H350.4" stroke="#484848" stroke-width="1.2" stroke-dasharray="4.9 1.95" stroke-dashoffset="0.2"/>
</g>
<path d="M42.43 119.3v-1.25M42.43 0.3v1.25M53.91 119.3v-1.25M53.91 0.3v1.25M62.05 119.3v-1.25M62.05 0.3v1.25M68.37 119.3v-1.25M68.37 0.3v1.25M73.54 119.3v-1.25M73.54 0.3v1.25M77.9 119.3v-1.25M77.9 0.3v1.25M81.68 119.3v-1.25M81.68 0.3v1.25M85.02 119.3v-1.25M85.02 0.3v1.25M88 119.3v-2.5M88 0.3v2.5M107.63 119.3v-1.25M107.63 0.3v1.25M119.11 119.3v-1.25M119.11 0.3v1.25M127.25 119.3v-1.25M127.25 0.3v1.25M133.57 119.3v-1.25M133.57 0.3v1.25M138.74 119.3v-1.25M138.74 0.3v1.25M143.1 119.3v-1.25M143.1 0.3v1.25M146.88 119.3v-1.25M146.88 0.3v1.25M150.22 119.3v-1.25M150.22 0.3v1.25M153.2 119.3v-2.5M153.2 0.3v2.5M172.83 119.3v-1.25M172.83 0.3v1.25M184.31 119.3v-1.25M184.31 0.3v1.25M25.5 112.56h1.25M184.8 112.56h-1.25M25.5 107.37h1.25M184.8 107.37h-1.25M25.5 103.13h1.25M184.8 103.13h-1.25M25.5 99.54h1.25M184.8 99.54h-1.25M25.5 96.44h1.25M184.8 96.44h-1.25M25.5 93.7h1.25M184.8 93.7h-1.25M25.5 91.25h2.5M184.8 91.25h-2.5M25.5 75.13h1.25M184.8 75.13h-1.25M25.5 65.7h1.25M184.8 65.7h-1.25M25.5 59.01h1.25M184.8 59.01h-1.25M25.5 53.82h1.25M184.8 53.82h-1.25M25.5 49.58h1.25M184.8 49.58h-1.25M25.5 45.99h1.25M184.8 45.99h-1.25M25.5 42.89h1.25M184.8 42.89h-1.25M25.5 40.15h1.25M184.8 40.15h-1.25M25.5 37.7h2.5M184.8 37.7h-2.5M25.5 21.58h1.25M184.8 21.58h-1.25M25.5 12.15h1.25M184.8 12.15h-1.25M25.5 5.46h1.25M184.8 5.46h-1.25M205.16 119.3v-1.25M205.16 0.3v1.25M214.66 119.3v-1.25M214.66 0.3v1.25M221.41 119.3v-1.25M221.41 0.3v1.25M226.64 119.3v-1.25M226.64 0.3v1.25M230.92 119.3v-1.25M230.92 0.3v1.25M234.54 119.3v-1.25M234.54 0.3v1.25M237.67 119.3v-1.25M237.67 0.3v1.25M240.43 119.3v-1.25M240.43 0.3v1.25M242.9 119.3v-2.5M242.9 0.3v2.5M259.16 119.3v-1.25M259.16 0.3v1.25M268.66 119.3v-1.25M268.66 0.3v1.25M275.41 119.3v-1.25M275.41 0.3v1.25M280.64 119.3v-1.25M280.64 0.3v1.25M284.92 119.3v-1.25M284.92 0.3v1.25M288.54 119.3v-1.25M288.54 0.3v1.25M291.67 119.3v-1.25M291.67 0.3v1.25M294.43 119.3v-1.25M294.43 0.3v1.25M296.9 119.3v-2.5M296.9 0.3v2.5M313.16 119.3v-1.25M313.16 0.3v1.25M322.66 119.3v-1.25M322.66 0.3v1.25M329.41 119.3v-1.25M329.41 0.3v1.25M334.64 119.3v-1.25M334.64 0.3v1.25M338.92 119.3v-1.25M338.92 0.3v1.25M342.54 119.3v-1.25M342.54 0.3v1.25M345.67 119.3v-1.25M345.67 0.3v1.25M348.43 119.3v-1.25M348.43 0.3v1.25M191.25 112.56h1.25M350.4 112.56h-1.25M191.25 107.37h1.25M350.4 107.37h-1.25M191.25 103.13h1.25M350.4 103.13h-1.25M191.25 99.54h1.25M350.4 99.54h-1.25M191.25 96.44h1.25M350.4 96.44h-1.25M191.25 93.7h1.25M350.4 93.7h-1.25M191.25 91.25h2.5M350.4 91.25h-2.5M191.25 75.13h1.25M350.4 75.13h-1.25M191.25 65.7h1.25M350.4 65.7h-1.25M191.25 59.01h1.25M350.4 59.01h-1.25M191.25 53.82h1.25M350.4 53.82h-1.25M191.25 49.58h1.25M350.4 49.58h-1.25M191.25 45.99h1.25M350.4 45.99h-1.25M191.25 42.89h1.25M350.4 42.89h-1.25M191.25 40.15h1.25M350.4 40.15h-1.25M191.25 37.7h2.5M350.4 37.7h-2.5M191.25 21.58h1.25M350.4 21.58h-1.25M191.25 12.15h1.25M350.4 12.15h-1.25M191.25 5.46h1.25M350.4 5.46h-1.25M42.43 238.3v-1.25M42.43 119.3v1.25M53.91 238.3v-1.25M53.91 119.3v1.25M62.05 238.3v-1.25M62.05 119.3v1.25M68.37 238.3v-1.25M68.37 119.3v1.25M73.54 238.3v-1.25M73.54 119.3v1.25M77.9 238.3v-1.25M77.9 119.3v1.25M81.68 238.3v-1.25M81.68 119.3v1.25M85.02 238.3v-1.25M85.02 119.3v1.25M88 238.3v-2.5M88 119.3v2.5M107.63 238.3v-1.25M107.63 119.3v1.25M119.11 238.3v-1.25M119.11 119.3v1.25M127.25 238.3v-1.25M127.25 119.3v1.25M133.57 238.3v-1.25M133.57 119.3v1.25M138.74 238.3v-1.25M138.74 119.3v1.25M143.1 238.3v-1.25M143.1 119.3v1.25M146.88 238.3v-1.25M146.88 119.3v1.25M150.22 238.3v-1.25M150.22 119.3v1.25M153.2 238.3v-2.5M153.2 119.3v2.5M172.83 238.3v-1.25M172.83 119.3v1.25M184.31 238.3v-1.25M184.31 119.3v1.25M25.5 231.61h1.25M184.8 231.61h-1.25M25.5 226.42h1.25M184.8 226.42h-1.25M25.5 222.18h1.25M184.8 222.18h-1.25M25.5 218.59h1.25M184.8 218.59h-1.25M25.5 215.49h1.25M184.8 215.49h-1.25M25.5 212.75h1.25M184.8 212.75h-1.25M25.5 210.3h2.5M184.8 210.3h-2.5M25.5 194.18h1.25M184.8 194.18h-1.25M25.5 184.75h1.25M184.8 184.75h-1.25M25.5 178.06h1.25M184.8 178.06h-1.25M25.5 172.87h1.25M184.8 172.87h-1.25M25.5 168.63h1.25M184.8 168.63h-1.25M25.5 165.04h1.25M184.8 165.04h-1.25M25.5 161.94h1.25M184.8 161.94h-1.25M25.5 159.2h1.25M184.8 159.2h-1.25M25.5 156.75h2.5M184.8 156.75h-2.5M25.5 140.63h1.25M184.8 140.63h-1.25M25.5 131.2h1.25M184.8 131.2h-1.25M25.5 124.51h1.25M184.8 124.51h-1.25M205.16 238.3v-1.25M205.16 119.3v1.25M214.66 238.3v-1.25M214.66 119.3v1.25M221.41 238.3v-1.25M221.41 119.3v1.25M226.64 238.3v-1.25M226.64 119.3v1.25M230.92 238.3v-1.25M230.92 119.3v1.25M234.54 238.3v-1.25M234.54 119.3v1.25M237.67 238.3v-1.25M237.67 119.3v1.25M240.43 238.3v-1.25M240.43 119.3v1.25M242.9 238.3v-2.5M242.9 119.3v2.5M259.16 238.3v-1.25M259.16 119.3v1.25M268.66 238.3v-1.25M268.66 119.3v1.25M275.41 238.3v-1.25M275.41 119.3v1.25M280.64 238.3v-1.25M280.64 119.3v1.25M284.92 238.3v-1.25M284.92 119.3v1.25M288.54 238.3v-1.25M288.54 119.3v1.25M291.67 238.3v-1.25M291.67 119.3v1.25M294.43 238.3v-1.25M294.43 119.3v1.25M296.9 238.3v-2.5M296.9 119.3v2.5M313.16 238.3v-1.25M313.16 119.3v1.25M322.66 238.3v-1.25M322.66 119.3v1.25M329.41 238.3v-1.25M329.41 119.3v1.25M334.64 238.3v-1.25M334.64 119.3v1.25M338.92 238.3v-1.25M338.92 119.3v1.25M342.54 238.3v-1.25M342.54 119.3v1.25M345.67 238.3v-1.25M345.67 119.3v1.25M348.43 238.3v-1.25M348.43 119.3v1.25M191.25 231.61h1.25M350.4 231.61h-1.25M191.25 226.42h1.25M350.4 226.42h-1.25M191.25 222.18h1.25M350.4 222.18h-1.25M191.25 218.59h1.25M350.4 218.59h-1.25M191.25 215.49h1.25M350.4 215.49h-1.25M191.25 212.75h1.25M350.4 212.75h-1.25M191.25 210.3h2.5M350.4 210.3h-2.5M191.25 194.18h1.25M350.4 194.18h-1.25M191.25 184.75h1.25M350.4 184.75h-1.25M191.25 178.06h1.25M350.4 178.06h-1.25M191.25 172.87h1.25M350.4 172.87h-1.25M191.25 168.63h1.25M350.4 168.63h-1.25M191.25 165.04h1.25M350.4 165.04h-1.25M191.25 161.94h1.25M350.4 161.94h-1.25M191.25 159.2h1.25M350.4 159.2h-1.25M191.25 156.75h2.5M350.4 156.75h-2.5M191.25 140.63h1.25M350.4 140.63h-1.25M191.25 131.2h1.25M350.4 131.2h-1.25M191.25 124.51h1.25M350.4 124.51h-1.25" stroke="#1a1a1a" stroke-width="1.05" fill="none"/>
<rect x="25.5" y="0.3" width="159.3" height="119" fill="none" stroke="#2a2a2a" stroke-width="0.9"/>
<rect x="191.25" y="0.3" width="159.15" height="119" fill="none" stroke="#2a2a2a" stroke-width="0.9"/>
<rect x="25.5" y="119.3" width="159.3" height="119" fill="none" stroke="#2a2a2a" stroke-width="0.9"/>
<rect x="191.25" y="119.3" width="159.15" height="119" fill="none" stroke="#2a2a2a" stroke-width="0.9"/>
<path d="M25.5 0.3H184.8M191.25 0.3H350.4" stroke="#1a1a1a" stroke-width="0.8" fill="none"/>
<path d="M33.4 13H54.3" stroke="#1c1c1c" stroke-width="1.9" fill="none"/>
<path d="M33.4 27.4H54.3" stroke="#2850e2" stroke-width="1.55" fill="none"/>
<path d="M33.4 41.9H54.3" stroke="#f41010" stroke-width="1.55" fill="none"/>
<path d="M33.4 56.3H54.3" stroke="#088008" stroke-width="1.55" fill="none"/>
<g font-family="Liberation Serif, serif" fill="#1a1a1a" stroke="#1a1a1a" stroke-width="0.22" opacity="0.999">
<text x="62.1" y="17.3" font-size="10.4" font-style="italic">R</text>
<text x="71.3" y="18.4" font-size="11.5" textLength="6.6" lengthAdjust="spacingAndGlyphs">=</text>
<text x="81" y="17.3" font-size="10.1" textLength="52.6" lengthAdjust="spacingAndGlyphs">0.005/0.0025</text>
<text x="62.1" y="31.6" font-size="10.4" font-style="italic">R</text>
<text x="71.3" y="32.7" font-size="11.5" textLength="6.6" lengthAdjust="spacingAndGlyphs">=</text>
<text x="81" y="31.6" font-size="10.1" textLength="43" lengthAdjust="spacingAndGlyphs">0.01/0.005</text>
<text x="62.1" y="45.9" font-size="10.4" font-style="italic">R</text>
<text x="71.3" y="47" font-size="11.5" textLength="6.6" lengthAdjust="spacingAndGlyphs">=</text>
<text x="81" y="45.9" font-size="10.1" textLength="43" lengthAdjust="spacingAndGlyphs">0.05/0.025</text>
<text x="62.1" y="60.2" font-size="10.4" font-style="italic">R</text>
<text x="71.3" y="61.3" font-size="11.5" textLength="6.6" lengthAdjust="spacingAndGlyphs">=</text>
<text x="81" y="60.2" font-size="10.1" textLength="33.8" lengthAdjust="spacingAndGlyphs">0.1/0.05</text>
<text x="120.4" y="113.3" font-size="10.6" font-style="italic" textLength="8.4" lengthAdjust="spacingAndGlyphs">H</text>
<text x="130.0" y="113.3" font-size="10.6" font-style="italic" textLength="5.6" lengthAdjust="spacingAndGlyphs">S</text>
<text x="136.3" y="113.3" font-size="10.6" font-style="italic" textLength="6.6" lengthAdjust="spacingAndGlyphs">T</text>
<text x="145.7" y="113.3" font-size="11.4" font-style="italic" textLength="5.2" lengthAdjust="spacingAndGlyphs">λ</text>
<text x="151.4" y="113.3" font-size="10.2" textLength="18.6" lengthAdjust="spacingAndGlyphs">1158</text>
<text x="171.9" y="113.3" font-size="10.4" textLength="7.4" lengthAdjust="spacingAndGlyphs">Å</text>
<text x="296.7" y="38.3" font-size="11.2" font-style="italic">a</text>
<text x="302.9" y="35.1" font-size="6.6">*</text>
<text x="308.8" y="39.2" font-size="11.5" textLength="7.2" lengthAdjust="spacingAndGlyphs">=</text>
<text x="319.3" y="38.3" font-size="10.4">0</text>
<text x="296.7" y="157.8" font-size="11.2" font-style="italic">a</text>
<text x="302.9" y="154.6" font-size="6.6">*</text>
<text x="308.8" y="158.7" font-size="11.5" textLength="7.2" lengthAdjust="spacingAndGlyphs">=</text>
<text x="319.3" y="157.8" font-size="10.4">1</text>
<text x="335" y="112.5" font-size="10.4" font-style="italic">z</text>
<text x="339.0" y="111.6" font-size="10.5">′</text>
<text x="77.95" y="248.5" font-size="10.9" textLength="10.5" lengthAdjust="spacingAndGlyphs">10</text><text x="89.25" y="244.5" font-size="7.6" textLength="8.9" lengthAdjust="spacingAndGlyphs">−1</text>
<text x="146.15" y="248.5" font-size="10.9" textLength="10.5" lengthAdjust="spacingAndGlyphs">10</text><text x="157.45" y="244.5" font-size="7.6" textLength="4.1" lengthAdjust="spacingAndGlyphs">0</text>
<text x="232.65" y="248.5" font-size="10.9" textLength="10.5" lengthAdjust="spacingAndGlyphs">10</text><text x="243.95" y="244.5" font-size="7.6" textLength="8.9" lengthAdjust="spacingAndGlyphs">−1</text>
<text x="289.35" y="248.5" font-size="10.9" textLength="10.5" lengthAdjust="spacingAndGlyphs">10</text><text x="300.65" y="244.5" font-size="7.6" textLength="4.1" lengthAdjust="spacingAndGlyphs">0</text>
<text x="343.15" y="248.5" font-size="10.9" textLength="10.5" lengthAdjust="spacingAndGlyphs">10</text><text x="354.45" y="244.5" font-size="7.6" textLength="4.1" lengthAdjust="spacingAndGlyphs">1</text>
<text x="79.3" y="261.4" font-size="11" textLength="50.9" lengthAdjust="spacingAndGlyphs">Time (day)</text>
<text x="245.1" y="261.4" font-size="11" textLength="50.9" lengthAdjust="spacingAndGlyphs">Time (day)</text>
<g transform="translate(21.25 37.6) rotate(-90)"><text x="-7.35" y="0" font-size="11.7" textLength="10.5" lengthAdjust="spacingAndGlyphs">10</text><text x="3.45" y="-4" font-size="7.6" textLength="4.1" lengthAdjust="spacingAndGlyphs">1</text></g>
<g transform="translate(21.25 91.3) rotate(-90)"><text x="-7.35" y="0" font-size="11.7" textLength="10.5" lengthAdjust="spacingAndGlyphs">10</text><text x="3.45" y="-4" font-size="7.6" textLength="4.1" lengthAdjust="spacingAndGlyphs">0</text></g>
<g transform="translate(21.25 156.6) rotate(-90)"><text x="-7.35" y="0" font-size="11.7" textLength="10.5" lengthAdjust="spacingAndGlyphs">10</text><text x="3.45" y="-4" font-size="7.6" textLength="4.1" lengthAdjust="spacingAndGlyphs">1</text></g>
<g transform="translate(21.25 210) rotate(-90)"><text x="-7.35" y="0" font-size="11.7" textLength="10.5" lengthAdjust="spacingAndGlyphs">10</text><text x="3.45" y="-4" font-size="7.6" textLength="4.1" lengthAdjust="spacingAndGlyphs">0</text></g>
<g transform="translate(7.6 60.2) rotate(-90)"><text x="-12.7" y="0" font-size="11" textLength="25.2" lengthAdjust="spacingAndGlyphs">Ratio</text></g>
<g transform="translate(7.6 179.2) rotate(-90)"><text x="-12.7" y="0" font-size="11" textLength="25.2" lengthAdjust="spacingAndGlyphs">Ratio</text></g>
</g>
</svg>
</body></html>
